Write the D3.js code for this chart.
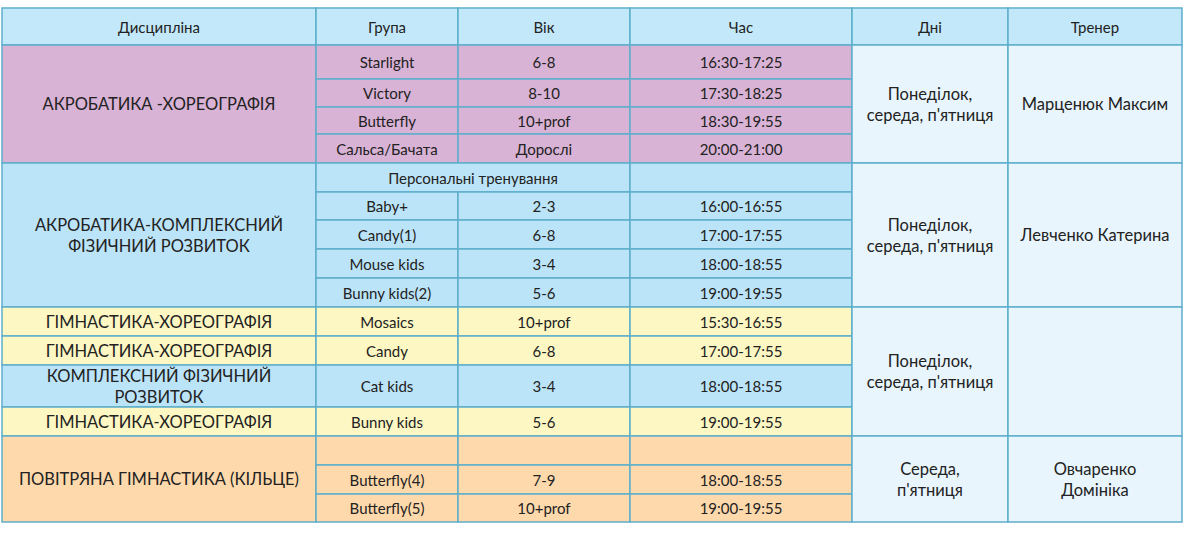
<!DOCTYPE html>
<html><head><meta charset="utf-8">
<script src="https://cdn.jsdelivr.net/npm/d3@7"></script>
<style>body{margin:0;background:#fff}text{font-family:Lato,"Open Sans",sans-serif;font-size:15px;fill:#222}</style>
</head><body><svg id="c" width="1184" height="533"></svg>
<script>
const headers = ["Дисципліна","Група","Вік","Час","Дні","Тренер"];
const groups = ["Starlight","Victory","Butterfly","Сальса/Бачата","Персональні тренування","Baby+","Candy(1)","Mouse kids","Bunny kids(2)","Mosaics","Candy","Cat kids","Bunny kids","","Butterfly(4)","Butterfly(5)"];
const ages = ["6-8","8-10","10+prof","Дорослі","","2-3","6-8","3-4","5-6","10+prof","6-8","3-4","5-6","","7-9","10+prof"];
const times = ["16:30-17:25","17:30-18:25","18:30-19:55","20:00-21:00","","16:00-16:55","17:00-17:55","18:00-18:55","19:00-19:55","15:30-16:55","17:00-17:55","18:00-18:55","19:00-19:55","","18:00-18:55","19:00-19:55"];
// disciplines: [label lines, first row, row count, colour key]
const disciplines = [
 [["АКРОБАТИКА -ХОРЕОГРАФІЯ"],0,4,"p"],
 [["АКРОБАТИКА-КОМПЛЕКСНИЙ","ФІЗИЧНИЙ РОЗВИТОК"],4,5,"b"],
 [["ГІМНАСТИКА-ХОРЕОГРАФІЯ"],9,1,"y"],
 [["ГІМНАСТИКА-ХОРЕОГРАФІЯ"],10,1,"y"],
 [["КОМПЛЕКСНИЙ ФІЗИЧНИЙ","РОЗВИТОК"],11,1,"b"],
 [["ГІМНАСТИКА-ХОРЕОГРАФІЯ"],12,1,"y"],
 [["ПОВІТРЯНА ГІМНАСТИКА (КІЛЬЦЕ)"],13,3,"o"]
];
const days = [[["Понеділок,","середа, п'ятниця"],0,4],[["Понеділок,","середа, п'ятниця"],4,5],[["Понеділок,","середа, п'ятниця"],9,4],[["Середа,","п'ятниця"],13,3]];
const trainers = [[["Марценюк Максим"],0,4],[["Левченко Катерина"],4,5],[[""],9,4],[["Овчаренко","Домініка"],13,3]];

// layout
const colX = [2,316,458,630,852,1008,1182];
const rowH = [34,28,27,29,29,28,29,29,29,29,29,42,29,29,29,28];
const top0 = 8, headH = 37;
const colors = {p:"#d9b3d5",b:"#bce4f8",y:"#fdf7c3",o:"#fed9ac",h:"#c3e8fa",l:"#e8f5fd"};
const border = "#5daecb";

const rowY = [top0+headH]; rowH.forEach(h=>rowY.push(rowY[rowY.length-1]+h));
const y = i => rowY[i];
const svg = d3.select("#c");
const cells = [];
headers.forEach((h,i)=>cells.push({x0:colX[i],x1:colX[i+1],y0:top0,y1:top0+headH,lines:[h],fill:colors.h}));
const rowColor = [];
disciplines.forEach(d=>{for(let k=0;k<d[2];k++)rowColor[d[1]+k]=colors[d[3]];
 cells.push({x0:colX[0],x1:colX[1],y0:y(d[1]),y1:y(d[1]+d[2]),lines:d[0],fill:colors[d[3]],big:true});});
groups.forEach((g,i)=>{
 if(i===4){cells.push({x0:colX[1],x1:colX[3],y0:y(i),y1:y(i+1),lines:[g],fill:rowColor[i]});}
 else{cells.push({x0:colX[1],x1:colX[2],y0:y(i),y1:y(i+1),lines:[g],fill:rowColor[i]});
  cells.push({x0:colX[2],x1:colX[3],y0:y(i),y1:y(i+1),lines:[ages[i]],fill:rowColor[i]});}
 cells.push({x0:colX[3],x1:colX[4],y0:y(i),y1:y(i+1),lines:[times[i]],fill:rowColor[i]});
});
days.forEach(d=>cells.push({x0:colX[4],x1:colX[5],y0:y(d[1]),y1:y(d[1]+d[2]),lines:d[0],fill:colors.l,big:true}));
trainers.forEach(d=>cells.push({x0:colX[5],x1:colX[6],y0:y(d[1]),y1:y(d[1]+d[2]),lines:d[0],fill:colors.l,big:true}));

const g = svg.selectAll("g.cell").data(cells).join("g");
g.append("rect").attr("x",d=>d.x0).attr("y",d=>d.y0).attr("width",d=>d.x1-d.x0).attr("height",d=>d.y1-d.y0)
 .attr("fill",d=>d.fill).attr("stroke",border).attr("stroke-width",1.5);
g.each(function(d){
 const cx=(d.x0+d.x1)/2, cy=(d.y0+d.y1)/2, lh=d.big?21:19, n=d.lines.length;
 d3.select(this).selectAll("text").data(d.lines).join("text")
  .attr("x",cx).attr("y",(t,k)=>cy+(k-(n-1)/2)*lh).attr("text-anchor","middle").attr("dominant-baseline","central")
  .style("font-size",d.big?"16.5px":"15px").text(t=>t);
});
</script></body></html>
